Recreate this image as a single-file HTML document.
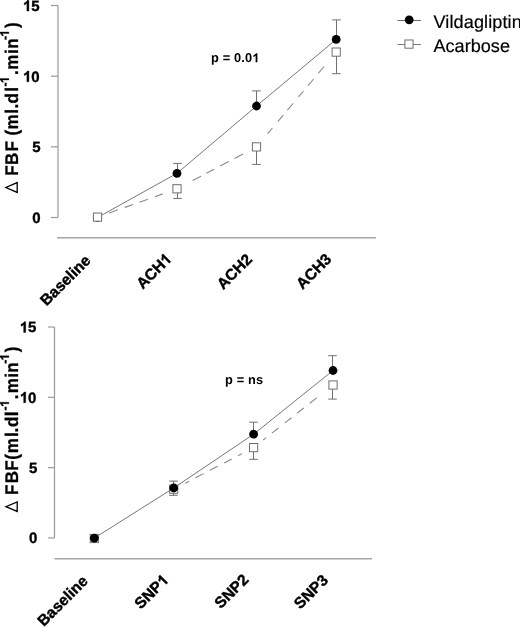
<!DOCTYPE html>
<html><head><meta charset="utf-8"><style>
html,body{margin:0;padding:0;background:#fff;}
body{width:520px;height:627px;overflow:hidden;}
svg{display:block;will-change:transform;}
text{font-family:"Liberation Sans",sans-serif;fill:#000;text-rendering:geometricPrecision;}
.tk{font-size:15px;font-weight:bold;stroke:#000;stroke-width:0.35px;}
.xl{font-size:15.5px;font-weight:bold;stroke:#000;stroke-width:0.4px;}
.yl{font-weight:bold;stroke:#000;stroke-width:0.3px;}
.pv{font-size:12.8px;font-weight:bold;letter-spacing:0.15px;}
.lg{font-size:18.1px;stroke:#000;stroke-width:0.2px;}
</style></head><body>
<svg width="520" height="627" viewBox="0 0 520 627">
<rect width="520" height="627" fill="#fff"/>
<line x1="58" y1="5.505000000000024" x2="58" y2="217.5" stroke="#9a9a9a" stroke-width="1.2"/>
<line x1="51" y1="217.5" x2="58" y2="217.5" stroke="#9a9a9a" stroke-width="1.2"/>
<text x="40.5" y="223.1" class="tk" text-anchor="end">0</text>
<line x1="51" y1="146.835" x2="58" y2="146.835" stroke="#9a9a9a" stroke-width="1.2"/>
<text x="40.5" y="152.435" class="tk" text-anchor="end">5</text>
<line x1="51" y1="76.17000000000002" x2="58" y2="76.17000000000002" stroke="#9a9a9a" stroke-width="1.2"/>
<text x="39.6" y="81.77000000000001" class="tk" text-anchor="end">0</text>
<path d="M 28.92 81.77 L 26.86 81.77 L 26.86 74.01 Q 25.74 75.07 24.20 75.57 L 24.20 73.71 Q 25.01 73.44 25.96 72.71 Q 26.90 71.98 27.25 71.03 L 28.92 71.03 Z" fill="#000" stroke="#000" stroke-width="0.35"/>
<line x1="51" y1="5.505000000000024" x2="58" y2="5.505000000000024" stroke="#9a9a9a" stroke-width="1.2"/>
<text x="39.6" y="11.105000000000024" class="tk" text-anchor="end">5</text>
<path d="M 28.92 11.11 L 26.86 11.11 L 26.86 3.35 Q 25.74 4.40 24.20 4.91 L 24.20 3.04 Q 25.01 2.78 25.96 2.04 Q 26.90 1.31 27.25 0.37 L 28.92 0.37 Z" fill="#000" stroke="#000" stroke-width="0.35"/>
<line x1="57" y1="237.8" x2="376" y2="237.8" stroke="#a6a6a6" stroke-width="1.4"/>
<line x1="109.20" y1="212.94" x2="118.00" y2="209.80" stroke="#8a8a8a" stroke-width="1.1"/>
<line x1="124.80" y1="207.38" x2="133.10" y2="204.43" stroke="#8a8a8a" stroke-width="1.1"/>
<line x1="139.40" y1="202.18" x2="147.90" y2="199.16" stroke="#8a8a8a" stroke-width="1.1"/>
<line x1="154.80" y1="196.70" x2="162.70" y2="193.89" stroke="#8a8a8a" stroke-width="1.1"/>
<line x1="192.70" y1="180.53" x2="201.00" y2="176.15" stroke="#8a8a8a" stroke-width="1.1"/>
<line x1="206.40" y1="173.30" x2="214.20" y2="169.19" stroke="#8a8a8a" stroke-width="1.1"/>
<line x1="220.10" y1="166.08" x2="228.70" y2="161.55" stroke="#8a8a8a" stroke-width="1.1"/>
<line x1="234.50" y1="158.49" x2="243.10" y2="153.96" stroke="#8a8a8a" stroke-width="1.1"/>
<line x1="267.50" y1="133.82" x2="272.40" y2="127.99" stroke="#8a8a8a" stroke-width="1.1"/>
<line x1="277.80" y1="121.56" x2="283.20" y2="115.14" stroke="#8a8a8a" stroke-width="1.1"/>
<line x1="287.40" y1="110.15" x2="293.20" y2="103.25" stroke="#8a8a8a" stroke-width="1.1"/>
<line x1="298.50" y1="96.94" x2="303.50" y2="91.00" stroke="#8a8a8a" stroke-width="1.1"/>
<line x1="308.00" y1="85.64" x2="313.60" y2="78.98" stroke="#8a8a8a" stroke-width="1.1"/>
<line x1="318.50" y1="73.15" x2="324.10" y2="66.49" stroke="#8a8a8a" stroke-width="1.1"/>
<polyline points="97.5,217.5 177,173.3 256.5,106.0 336.2,39.4" fill="none" stroke="#777777" stroke-width="1"/>
<line x1="177.5" y1="173.3" x2="177.5" y2="163.4" stroke="#707070" stroke-width="1"/>
<line x1="173.2" y1="163.4" x2="181.8" y2="163.4" stroke="#707070" stroke-width="1"/>
<line x1="256.5" y1="106.0" x2="256.5" y2="90.9" stroke="#707070" stroke-width="1"/>
<line x1="252.2" y1="90.9" x2="260.8" y2="90.9" stroke="#707070" stroke-width="1"/>
<line x1="336.5" y1="39.4" x2="336.5" y2="19.9" stroke="#707070" stroke-width="1"/>
<line x1="332.2" y1="19.9" x2="340.8" y2="19.9" stroke="#707070" stroke-width="1"/>
<line x1="177.5" y1="188.8" x2="177.5" y2="198.4" stroke="#707070" stroke-width="1"/>
<line x1="173.2" y1="198.4" x2="181.8" y2="198.4" stroke="#707070" stroke-width="1"/>
<line x1="256.5" y1="146.9" x2="256.5" y2="164.4" stroke="#707070" stroke-width="1"/>
<line x1="252.2" y1="164.4" x2="260.8" y2="164.4" stroke="#707070" stroke-width="1"/>
<line x1="336.5" y1="52.1" x2="336.5" y2="73.7" stroke="#707070" stroke-width="1"/>
<line x1="332.2" y1="73.7" x2="340.8" y2="73.7" stroke="#707070" stroke-width="1"/>
<circle cx="97.5" cy="217.5" r="4.4" fill="#000"/>
<rect x="93.4" y="213.0" width="8.2" height="8.2" fill="#fff" stroke="#6e6e6e" stroke-width="1"/>
<circle cx="177" cy="173.3" r="4.4" fill="#000"/>
<rect x="172.9" y="184.70000000000002" width="8.2" height="8.2" fill="#fff" stroke="#6e6e6e" stroke-width="1"/>
<circle cx="256.5" cy="106.0" r="4.4" fill="#000"/>
<rect x="252.4" y="142.8" width="8.2" height="8.2" fill="#fff" stroke="#6e6e6e" stroke-width="1"/>
<circle cx="336.2" cy="39.4" r="4.4" fill="#000"/>
<rect x="332.09999999999997" y="48.0" width="8.2" height="8.2" fill="#fff" stroke="#6e6e6e" stroke-width="1"/>
<text x="91.5" y="261.5" class="xl" text-anchor="end" transform="rotate(-45 91.5 261.5)">Baseline</text>
<g transform="translate(172.5 260) rotate(-45)"><text x="-8.62" y="0" class="xl" text-anchor="end">ACH</text><path d="M -2.41 0.00 L -4.54 0.00 L -4.54 -8.01 Q -5.71 -6.93 -7.29 -6.40 L -7.29 -8.33 Q -6.46 -8.61 -5.48 -9.36 Q -4.50 -10.12 -4.14 -11.10 L -2.41 -11.10 Z" fill="#000" stroke="#000" stroke-width="0.4"/></g>
<text x="253" y="260.3" class="xl" text-anchor="end" transform="rotate(-45 253 260.3)">ACH2</text>
<text x="332.4" y="260.1" class="xl" text-anchor="end" transform="rotate(-45 332.4 260.1)">ACH3</text>
<g transform="rotate(-90) scale(0.929,1)"><text x="-189.24" y="18.2" class="yl" font-size="18.3">F</text><text x="-177.63" y="18.2" class="yl" font-size="18.3">B</text><text x="-163.13" y="18.2" class="yl" font-size="18.3">F</text><text x="-145.90" y="18.2" class="yl" font-size="18.3">(</text><text x="-139.44" y="18.2" class="yl" font-size="18.3">m</text><text x="-122.45" y="18.2" class="yl" font-size="18.3">l</text><text x="-116.74" y="18.2" class="yl" font-size="18.3">.</text><text x="-111.39" y="18.2" class="yl" font-size="18.3">d</text><text x="-98.71" y="18.2" class="yl" font-size="18.3">l</text><text x="-93.05" y="8.9" class="yl" font-size="12.9">-</text><path d="M -84.44 8.90 L -86.21 8.90 L -86.21 2.23 Q -87.18 3.14 -88.50 3.57 L -88.50 1.96 Q -87.80 1.74 -86.99 1.11 Q -86.18 0.48 -85.88 -0.33 L -84.44 -0.33 Z" fill="#000" stroke="#000" stroke-width="0.3"/><text x="-80.79" y="18.2" class="yl" font-size="18.3">.</text><text x="-75.07" y="18.2" class="yl" font-size="18.3">m</text><text x="-58.08" y="18.2" class="yl" font-size="18.3">i</text><text x="-52.56" y="18.2" class="yl" font-size="18.3">n</text><text x="-42.94" y="8.9" class="yl" font-size="12.9">-</text><path d="M -34.33 8.90 L -36.10 8.90 L -36.10 2.23 Q -37.07 3.14 -38.39 3.57 L -38.39 1.96 Q -37.70 1.74 -36.88 1.11 Q -36.07 0.48 -35.77 -0.33 L -34.33 -0.33 Z" fill="#000" stroke="#000" stroke-width="0.3"/><text x="-30.26" y="18.2" class="yl" font-size="18.3">)</text></g>
<path d="M17.2 192.4 L17.2 182.6 L5.9 187.5 Z" fill="none" stroke="#000" stroke-width="1.3" stroke-linejoin="miter"/>
<text x="211" y="62.3" class="pv">p = 0.0</text>
<path d="M 257.38 62.30 L 255.62 62.30 L 255.62 55.68 Q 254.66 56.58 253.36 57.01 L 253.36 55.42 Q 254.04 55.19 254.85 54.57 Q 255.66 53.94 255.96 53.14 L 257.38 53.14 Z" fill="#000"/>
<line x1="54.5" y1="326.995" x2="54.5" y2="538" stroke="#9a9a9a" stroke-width="1.2"/>
<line x1="48.0" y1="538.0" x2="54.5" y2="538.0" stroke="#9a9a9a" stroke-width="1.2"/>
<text x="37.3" y="543.4" class="tk" text-anchor="end">0</text>
<line x1="48.0" y1="467.66499999999996" x2="54.5" y2="467.66499999999996" stroke="#9a9a9a" stroke-width="1.2"/>
<text x="37.3" y="473.06499999999994" class="tk" text-anchor="end">5</text>
<line x1="48.0" y1="397.33" x2="54.5" y2="397.33" stroke="#9a9a9a" stroke-width="1.2"/>
<text x="36.4" y="402.72999999999996" class="tk" text-anchor="end">0</text>
<path d="M 25.72 402.73 L 23.66 402.73 L 23.66 394.97 Q 22.54 396.03 21.00 396.53 L 21.00 394.67 Q 21.81 394.40 22.76 393.67 Q 23.70 392.94 24.05 391.99 L 25.72 391.99 Z" fill="#000" stroke="#000" stroke-width="0.35"/>
<line x1="48.0" y1="326.995" x2="54.5" y2="326.995" stroke="#9a9a9a" stroke-width="1.2"/>
<text x="36.4" y="332.395" class="tk" text-anchor="end">5</text>
<path d="M 25.72 332.39 L 23.66 332.39 L 23.66 324.64 Q 22.54 325.69 21.00 326.20 L 21.00 324.33 Q 21.81 324.07 22.76 323.33 Q 23.70 322.60 24.05 321.66 L 25.72 321.66 Z" fill="#000" stroke="#000" stroke-width="0.35"/>
<line x1="54.5" y1="558.7" x2="372" y2="558.7" stroke="#a6a6a6" stroke-width="1.4"/>
<line x1="185.30" y1="483.16" x2="189.10" y2="481.18" stroke="#8a8a8a" stroke-width="1.1"/>
<line x1="195.50" y1="477.85" x2="203.60" y2="473.63" stroke="#8a8a8a" stroke-width="1.1"/>
<line x1="209.90" y1="470.35" x2="217.70" y2="466.29" stroke="#8a8a8a" stroke-width="1.1"/>
<line x1="224.10" y1="462.96" x2="231.70" y2="459.00" stroke="#8a8a8a" stroke-width="1.1"/>
<line x1="238.10" y1="455.67" x2="241.80" y2="453.74" stroke="#8a8a8a" stroke-width="1.1"/>
<line x1="263.20" y1="440.03" x2="266.20" y2="437.67" stroke="#8a8a8a" stroke-width="1.1"/>
<line x1="271.90" y1="433.17" x2="278.50" y2="427.97" stroke="#8a8a8a" stroke-width="1.1"/>
<line x1="284.90" y1="422.92" x2="291.50" y2="417.72" stroke="#8a8a8a" stroke-width="1.1"/>
<line x1="297.10" y1="413.30" x2="303.80" y2="408.02" stroke="#8a8a8a" stroke-width="1.1"/>
<line x1="309.80" y1="403.29" x2="316.70" y2="397.85" stroke="#8a8a8a" stroke-width="1.1"/>
<polyline points="94.3,538.1 173.7,488 253.6,434.2 333,370.5" fill="none" stroke="#777777" stroke-width="1"/>
<line x1="173.5" y1="488" x2="173.5" y2="481.1" stroke="#707070" stroke-width="1"/>
<line x1="169.2" y1="481.1" x2="177.8" y2="481.1" stroke="#707070" stroke-width="1"/>
<line x1="253.5" y1="434.2" x2="253.5" y2="422.2" stroke="#707070" stroke-width="1"/>
<line x1="249.2" y1="422.2" x2="257.8" y2="422.2" stroke="#707070" stroke-width="1"/>
<line x1="332.5" y1="370.5" x2="332.5" y2="355.7" stroke="#707070" stroke-width="1"/>
<line x1="328.2" y1="355.7" x2="336.8" y2="355.7" stroke="#707070" stroke-width="1"/>
<line x1="173.5" y1="489.2" x2="173.5" y2="495.3" stroke="#707070" stroke-width="1"/>
<line x1="169.2" y1="495.3" x2="177.8" y2="495.3" stroke="#707070" stroke-width="1"/>
<line x1="253.5" y1="447.6" x2="253.5" y2="459.3" stroke="#707070" stroke-width="1"/>
<line x1="249.2" y1="459.3" x2="257.8" y2="459.3" stroke="#707070" stroke-width="1"/>
<line x1="332.5" y1="385" x2="332.5" y2="399.1" stroke="#707070" stroke-width="1"/>
<line x1="328.2" y1="399.1" x2="336.8" y2="399.1" stroke="#707070" stroke-width="1"/>
<rect x="90.2" y="534.4" width="8.2" height="8.2" fill="#fff" stroke="#6e6e6e" stroke-width="1"/>
<circle cx="94.3" cy="538.1" r="4.4" fill="#000"/>
<rect x="169.6" y="485.09999999999997" width="8.2" height="8.2" fill="#fff" stroke="#6e6e6e" stroke-width="1"/>
<circle cx="173.7" cy="488" r="4.4" fill="#000"/>
<circle cx="253.6" cy="434.2" r="4.4" fill="#000"/>
<rect x="249.5" y="443.5" width="8.2" height="8.2" fill="#fff" stroke="#6e6e6e" stroke-width="1"/>
<circle cx="333" cy="370.5" r="4.4" fill="#000"/>
<rect x="328.9" y="380.9" width="8.2" height="8.2" fill="#fff" stroke="#6e6e6e" stroke-width="1"/>
<text x="88.8" y="582" class="xl" text-anchor="end" transform="rotate(-45 88.8 582)">Baseline</text>
<g transform="translate(169.5 581.1) rotate(-45)"><text x="-8.62" y="0" class="xl" text-anchor="end">SNP</text><path d="M -2.41 0.00 L -4.54 0.00 L -4.54 -8.01 Q -5.71 -6.93 -7.29 -6.40 L -7.29 -8.33 Q -6.46 -8.61 -5.48 -9.36 Q -4.50 -10.12 -4.14 -11.10 L -2.41 -11.10 Z" fill="#000" stroke="#000" stroke-width="0.4"/></g>
<text x="249.5" y="580.7" class="xl" text-anchor="end" transform="rotate(-45 249.5 580.7)">SNP2</text>
<text x="329" y="581.1" class="xl" text-anchor="end" transform="rotate(-45 329 581.1)">SNP3</text>
<g transform="rotate(-90) scale(0.929,1)"><text x="-532.78" y="18.2" class="yl" font-size="18.3">F</text><text x="-520.21" y="18.2" class="yl" font-size="18.3">B</text><text x="-506.83" y="18.2" class="yl" font-size="18.3">F</text><text x="-494.83" y="18.2" class="yl" font-size="18.3">(</text><text x="-487.88" y="18.2" class="yl" font-size="18.3">m</text><text x="-470.46" y="18.2" class="yl" font-size="18.3">l</text><text x="-465.50" y="18.2" class="yl" font-size="18.3">.</text><text x="-459.77" y="18.2" class="yl" font-size="18.3">d</text><text x="-448.17" y="18.2" class="yl" font-size="18.3">l</text><text x="-441.86" y="8.9" class="yl" font-size="12.9">-</text><path d="M -432.88 8.90 L -434.65 8.90 L -434.65 2.23 Q -435.62 3.14 -436.94 3.57 L -436.94 1.96 Q -436.24 1.74 -435.43 1.11 Q -434.62 0.48 -434.32 -0.33 L -432.88 -0.33 Z" fill="#000" stroke="#000" stroke-width="0.3"/><text x="-429.71" y="18.2" class="yl" font-size="18.3">.</text><text x="-423.35" y="18.2" class="yl" font-size="18.3">m</text><text x="-406.68" y="18.2" class="yl" font-size="18.3">i</text><text x="-401.21" y="18.2" class="yl" font-size="18.3">n</text><text x="-391.59" y="8.9" class="yl" font-size="12.9">-</text><path d="M -382.93 8.90 L -384.70 8.90 L -384.70 2.23 Q -385.67 3.14 -386.99 3.57 L -386.99 1.96 Q -386.30 1.74 -385.48 1.11 Q -384.67 0.48 -384.37 -0.33 L -382.93 -0.33 Z" fill="#000" stroke="#000" stroke-width="0.3"/><text x="-379.08" y="18.2" class="yl" font-size="18.3">)</text></g>
<path d="M17.2 511.4 L17.2 501.9 L5.9 506.65 Z" fill="none" stroke="#000" stroke-width="1.3" stroke-linejoin="miter"/>
<text x="225" y="384" class="pv">p = ns</text>

<line x1="397.5" y1="20.5" x2="421" y2="20.5" stroke="#6a6a6a" stroke-width="1"/>
<circle cx="409.2" cy="19.8" r="4.4" fill="#000"/>
<text x="433.5" y="27.5" class="lg" letter-spacing="0.1">Vildagliptin</text>
<line x1="397.5" y1="44.5" x2="421" y2="44.5" stroke="#7a7a7a" stroke-width="1"/>
<rect x="404.9" y="40" width="8.2" height="8.2" fill="#fff" stroke="#6e6e6e" stroke-width="1"/>
<text x="433.5" y="51.7" class="lg">Acarbose</text>

</svg>
</body></html>
